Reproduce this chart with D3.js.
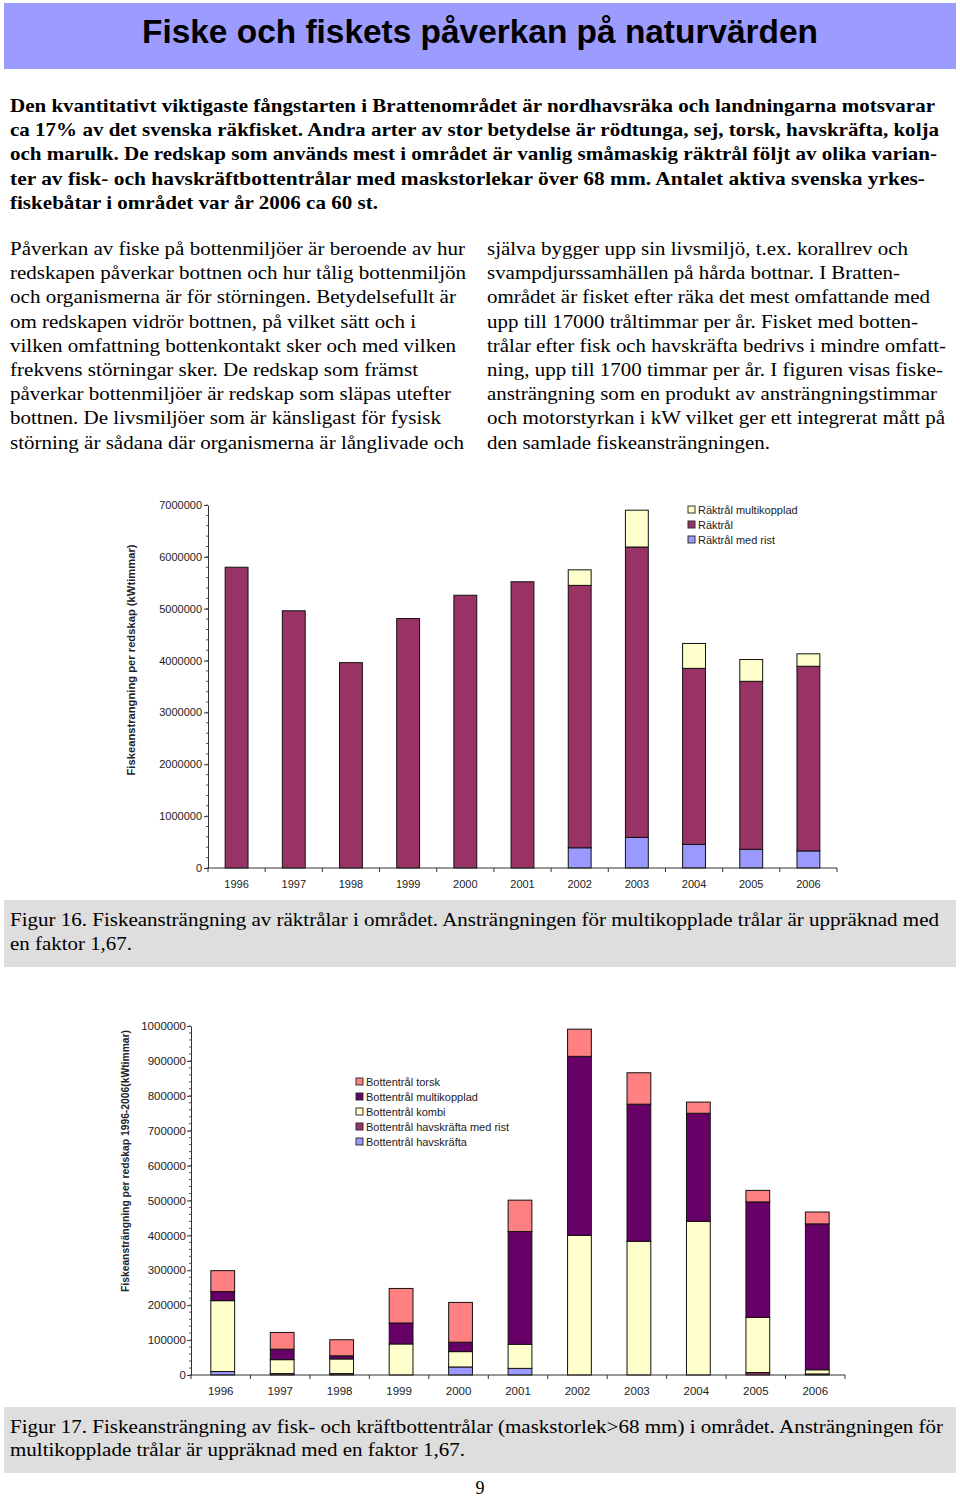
<!DOCTYPE html>
<html><head><meta charset="utf-8">
<script src="https://cdn.jsdelivr.net/npm/d3@7"></script>
<style>body{margin:0;background:#fff} svg{display:block}</style>
</head><body>
<svg id="page" width="960" height="1499"></svg>
<script>
// ---------- DATA ----------
const years = ["1996","1997","1998","1999","2000","2001","2002","2003","2004","2005","2006"];

// Figur 16 (kWtimmar)
const rakTralMedRist     = [0,0,0,0,0,0,390000,590000,455000,360000,330000];
const rakTral            = [5800000,4960000,3960000,4810000,5260000,5520000,5060000,5600000,3395000,3240000,3560000];
const rakTralMultikopplad= [0,0,0,0,0,0,300000,710000,480000,420000,240000];
const fig16Ticks = [0,1000000,2000000,3000000,4000000,5000000,6000000,7000000];

// Figur 17 (kWtimmar)
const bottHavskrafta        = [10000,0,0,0,23000,19000,0,0,0,0,0];
const bottHavskraftaMedRist = [0,4000,4000,0,0,0,0,0,0,7000,3000];
const bottKombi             = [203000,40000,42000,89000,44000,69000,400000,383000,440000,158000,12000];
const bottMultikopplad      = [26000,30000,9000,60000,27000,323000,513000,393000,310000,331000,418000];
const bottTorsk             = [60000,48000,46000,99000,114000,90000,78000,90000,32000,33000,34000];
const fig17Ticks = [0,100000,200000,300000,400000,500000,600000,700000,800000,900000,1000000];

// ---------- TEXT ----------
const titleText = "Fiske och fiskets påverkan på naturvärden";
const introLines = [
 "Den kvantitativt viktigaste fångstarten i Brattenområdet är nordhavsräka och landningarna motsvarar",
 "ca 17% av det svenska räkfisket. Andra arter av stor betydelse är rödtunga, sej, torsk, havskräfta, kolja",
 "och marulk. De redskap som används mest i området är vanlig småmaskig räktrål följt av olika varian-",
 "ter av fisk- och havskräftbottentrålar med maskstorlekar över 68 mm. Antalet aktiva svenska yrkes-",
 "fiskebåtar i området var år 2006 ca 60 st."];
const leftCol = [
 "Påverkan av fiske på bottenmiljöer är beroende av hur",
 "redskapen påverkar bottnen och hur tålig bottenmiljön",
 "och organismerna är för störningen. Betydelsefullt är",
 "om redskapen vidrör bottnen, på vilket sätt och i",
 "vilken omfattning bottenkontakt sker och med vilken",
 "frekvens störningar sker. De redskap som främst",
 "påverkar bottenmiljöer är redskap som släpas utefter",
 "bottnen. De livsmiljöer som är känsligast för fysisk",
 "störning är sådana där organismerna är långlivade och"];
const rightCol = [
 "själva bygger upp sin livsmiljö, t.ex. korallrev och",
 "svampdjurssamhällen på hårda bottnar. I Bratten-",
 "området är fisket efter räka det mest omfattande med",
 "upp till 17000 tråltimmar per år. Fisket med botten-",
 "trålar efter fisk och havskräfta bedrivs i mindre omfatt-",
 "ning, upp till 1700 timmar per år. I figuren visas fiske-",
 "ansträngning som en produkt av ansträngningstimmar",
 "och motorstyrkan i kW vilket ger ett integrerat mått på",
 "den samlade fiskeansträngningen."];
const cap16 = ["Figur 16. Fiskeansträngning av räktrålar i området. Ansträngningen för multikopplade trålar är uppräknad med",
 "en faktor 1,67."];
const cap17 = ["Figur 17. Fiskeansträngning av fisk- och kräftbottentrålar (maskstorlek>68 mm) i området. Ansträngningen för",
 "multikopplade trålar är uppräknad med en faktor 1,67."];

// ---------- LAYOUT ----------
const svg = d3.select("#page");
const serif = "'Liberation Serif','Times New Roman',serif";
const sans = "'Liberation Sans',Arial,sans-serif";

function line(txt, x, y, w, o) {
  o = o || {};
  const t = svg.append("text").attr("x", x).attr("y", y).text(txt)
    .attr("font-family", o.family || serif).attr("font-size", o.size || 19)
    .attr("font-weight", o.weight || "normal").attr("fill", "#000");
  if (w) t.attr("textLength", w).attr("lengthAdjust", "spacingAndGlyphs");
  if (o.anchor) t.attr("text-anchor", o.anchor);
  return t;
}

// title band
svg.append("rect").attr("x",4).attr("y",3).attr("width",952).attr("height",66).attr("fill","#9c9cff");
line(titleText, 142, 43, 676, {family: sans, size: 34, weight: "bold"});

// intro (bold)
const introW = [925, 929, 927, 915, 368];
introLines.forEach((s,i)=> line(s, 10, 112 + i*24.2, introW[i], {weight:"bold", size:19}));

const leftW = [455,456,446,406,446,408,441,431,454];
const rightW = [421,413,443,431,459,456,450,458,283];
leftCol.forEach((s,i)=> line(s, 10, 255 + i*24.2, leftW[i]));
rightCol.forEach((s,i)=> line(s, 487, 255 + i*24.2, rightW[i]));

// caption bands
svg.append("rect").attr("x",4).attr("y",900).attr("width",952).attr("height",67).attr("fill","#dedede");
line(cap16[0], 10, 926, 929); line(cap16[1], 10, 950, 122);
svg.append("rect").attr("x",4).attr("y",1407).attr("width",952).attr("height",66).attr("fill","#dedede");
line(cap17[0], 10, 1433, 933); line(cap17[1], 10, 1456, 455);
line("9", 480, 1494, null, {anchor:"middle", size: 18});

// ---------- CHARTS ----------
function stackedChart(cfg) {
  const g = svg.append("g").attr("font-family", sans);
  const x = d3.scaleBand().domain(years).range([cfg.x0, cfg.x1]).padding(0);
  const y = d3.scaleLinear().domain([0, cfg.max]).range([cfg.y0, cfg.y1]);
  const table = years.map((yr,i)=>{ const o={year:yr}; cfg.series.forEach(s=>o[s.key]=s.values[i]); return o; });
  const layers = d3.stack().keys(cfg.series.map(s=>s.key))(table);
  const bw = x.bandwidth()*cfg.frac;
  layers.forEach((L,li)=>{
    g.append("g").selectAll("rect").data(L.filter(d=>d[1]-d[0]>0)).join("rect")
      .attr("x", d=>x(d.data.year)+(x.bandwidth()-bw)/2 + (cfg.shift||0))
      .attr("width", bw)
      .attr("y", d=>y(d[1]))
      .attr("height", d=>y(d[0])-y(d[1]))
      .attr("fill", cfg.series[li].color)
      .attr("stroke", "#111").attr("stroke-width", 1);
  });
  // y axis
  const ya = g.append("g").attr("transform", `translate(${cfg.x0},0)`)
    .call(d3.axisLeft(y).tickValues(cfg.ticks).tickFormat(d3.format("d")).tickSize(4).tickSizeOuter(0).tickPadding(cfg.tickPad));
  ya.selectAll("text").attr("font-size", cfg.fontSize).attr("fill","#222").attr("font-family", sans);
  ya.selectAll("line,path").attr("stroke","#333");
  g.append("g").selectAll("line").data(d3.range(0, cfg.max+1, cfg.minor)).join("line")
    .attr("x1", cfg.x0-2).attr("x2", cfg.x0).attr("y1", d=>y(d)).attr("y2", d=>y(d)).attr("stroke","#555");
  // x axis
  g.append("line").attr("x1", cfg.x0).attr("x2", cfg.x1).attr("y1", cfg.y0).attr("y2", cfg.y0).attr("stroke","#333");
  g.append("g").selectAll("line").data(years.map(d=>x(d)).concat([cfg.x1])).join("line")
    .attr("x1", d=>d).attr("x2", d=>d).attr("y1", cfg.y0).attr("y2", cfg.y0+4).attr("stroke","#333");
  const xa = g.append("g").attr("transform", `translate(0,${cfg.y0})`)
    .call(d3.axisBottom(x).tickSize(0).tickPadding(cfg.labelPad));
  xa.select(".domain").remove();
  xa.selectAll("text").attr("font-size", cfg.fontSize).attr("fill","#222").attr("font-family", sans);
  // y title
  g.append("text").attr("transform", `translate(${cfg.titleX},${cfg.titleY}) rotate(-90)`)
    .attr("text-anchor","middle").attr("font-size", 10.5).attr("font-weight","bold").attr("fill","#222")
    .attr("textLength", cfg.titleLen).attr("lengthAdjust","spacingAndGlyphs").text(cfg.title);
  // legend
  cfg.legend.forEach((key,i)=>{
    const s = cfg.series.find(d=>d.key===key);
    const ly = cfg.legY + i*cfg.legStep;
    g.append("rect").attr("x", cfg.legX).attr("y", ly-4).attr("width",7).attr("height",7)
      .attr("fill", s.color).attr("stroke","#333").attr("stroke-width",1);
    g.append("text").attr("x", cfg.legX+10).attr("y", ly+4).attr("font-size",11).attr("fill","#222").text(s.name);
  });
}

stackedChart({
  x0: 208, x1: 837, y0: 868, y1: 505, max: 7000000, ticks: fig16Ticks, minor: 200000,
  frac: 0.4, fontSize: 11, tickPad: 2, labelPad: 12,
  series: [
    {key:"rist", name:"Räktrål med rist", values: rakTralMedRist, color:"#9999ff"},
    {key:"rak", name:"Räktrål", values: rakTral, color:"#993366"},
    {key:"multi", name:"Räktrål multikopplad", values: rakTralMultikopplad, color:"#ffffcc"}
  ],
  legend: ["multi","rak","rist"], legX: 688, legY: 510, legStep: 15,
  title: "Fiskeanstrangning per redskap  (kWtimmar)", titleX: 135, titleY: 660, titleLen: 231
});

stackedChart({
  x0: 191, x1: 845, y0: 1375, y1: 1026, max: 1000000, ticks: fig17Ticks, minor: 20000,
  frac: 0.4, fontSize: 11.5, tickPad: 1, labelPad: 12, shift: 2,
  series: [
    {key:"hav", name:"Bottentrål havskräfta", values: bottHavskrafta, color:"#9999ff"},
    {key:"rist", name:"Bottentrål havskräfta med rist", values: bottHavskraftaMedRist, color:"#993366"},
    {key:"kombi", name:"Bottentrål kombi", values: bottKombi, color:"#ffffcc"},
    {key:"multi", name:"Bottentrål multikopplad", values: bottMultikopplad, color:"#660066"},
    {key:"torsk", name:"Bottentrål torsk", values: bottTorsk, color:"#ff8080"}
  ],
  legend: ["torsk","multi","kombi","rist","hav"], legX: 356, legY: 1082, legStep: 15,
  title: "Fiskeansträngning per redskap 1996-2006(kWtimmar)", titleX: 129, titleY: 1161, titleLen: 262
});
</script>
</body></html>
